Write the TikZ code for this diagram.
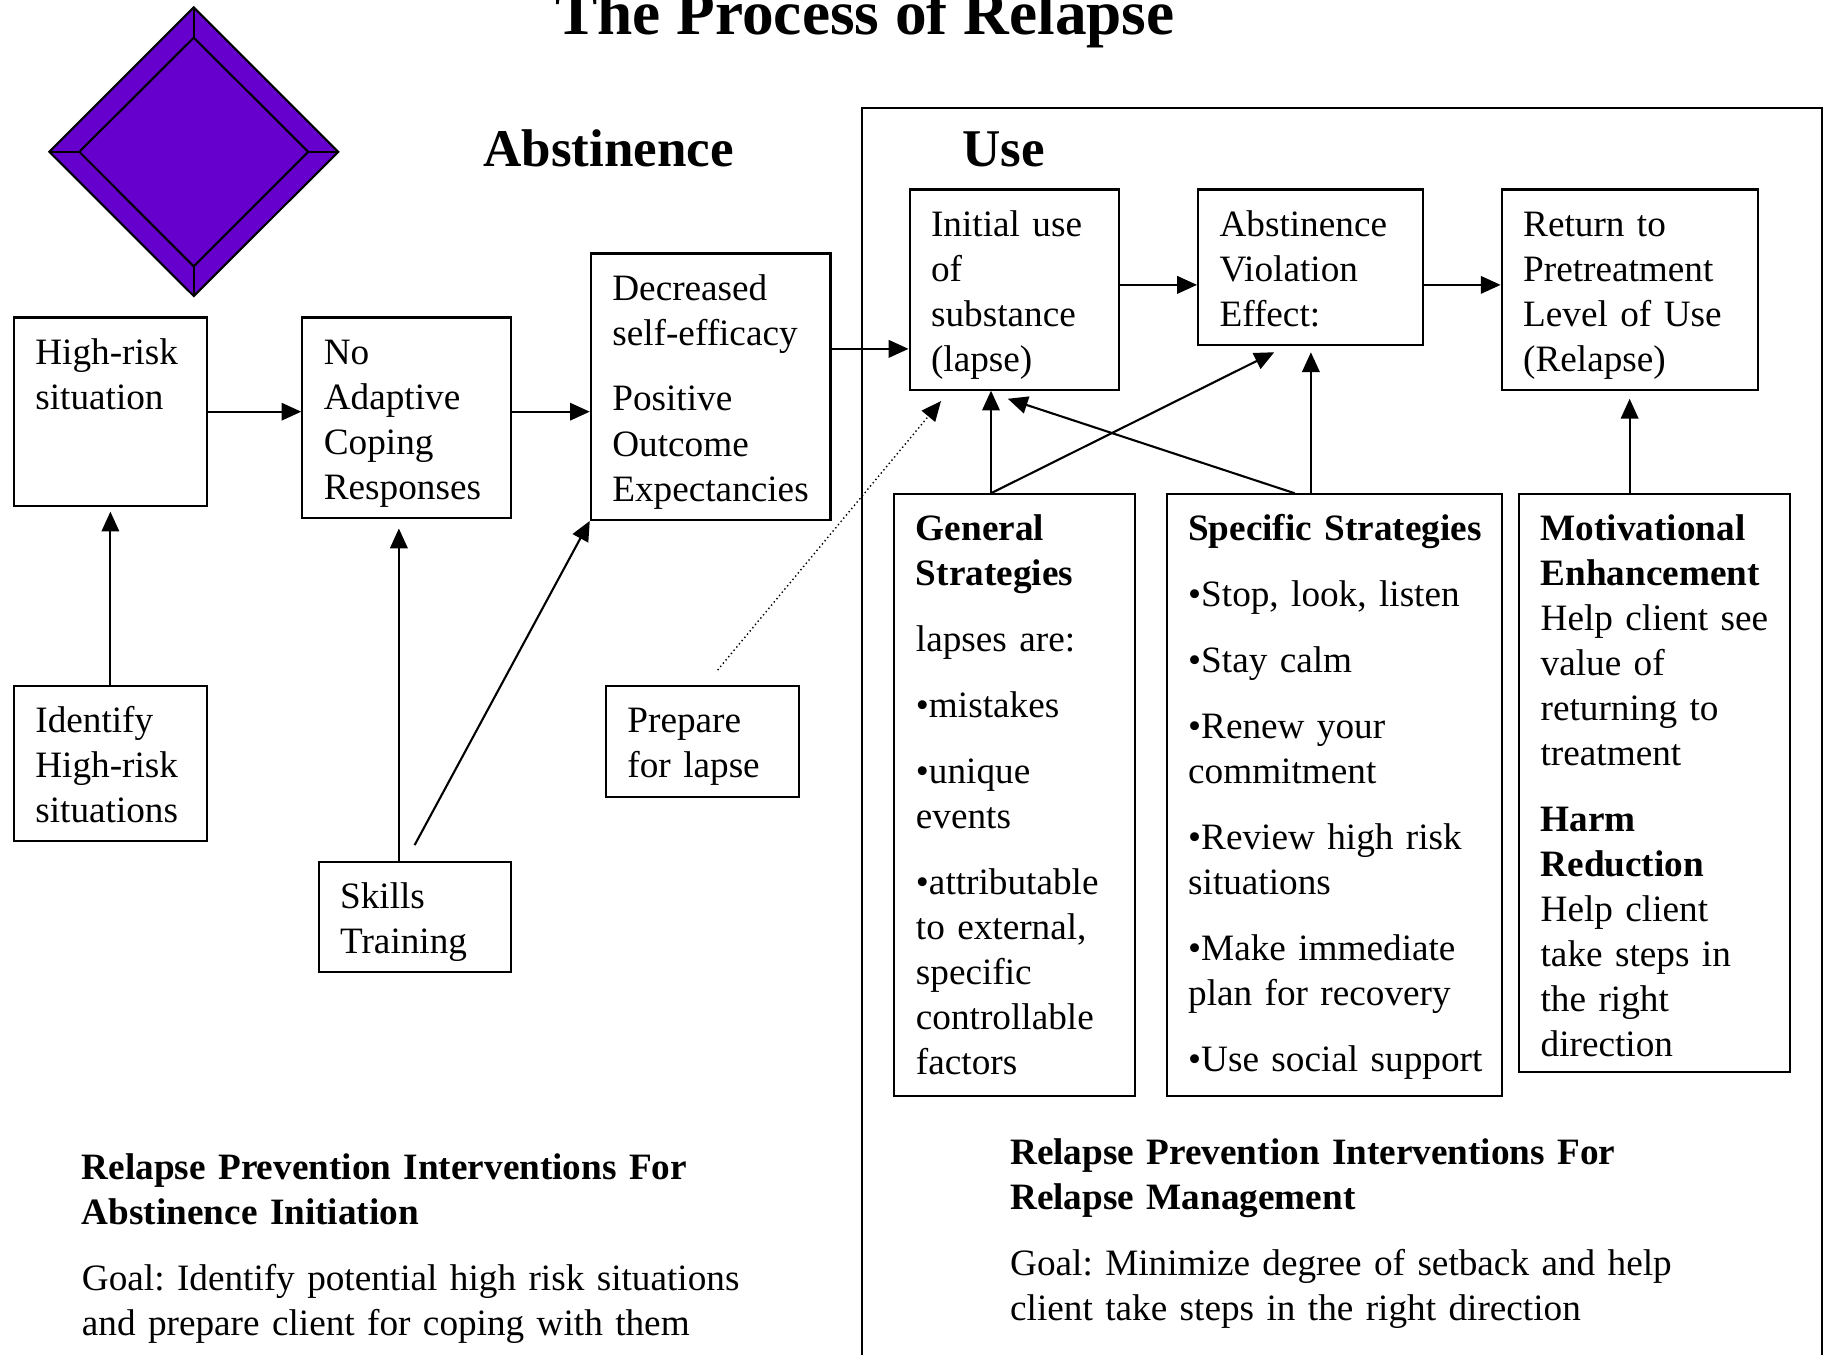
\documentclass[tikz,border=0pt]{standalone}
\usepackage{fontspec}
\setmainfont{Liberation Serif}
\usetikzlibrary{arrows.meta}

\definecolor{gem}{HTML}{6600CC}
\newcommand{\relfont}{\fontsize{16}{19.35}\selectfont\frenchspacing\hyphenpenalty=10000\exhyphenpenalty=10000}

\begin{document}
\begin{tikzpicture}[x=0.5pt, y=-0.5pt,
	box/.style={draw, line width=0.9pt, anchor=north west, align=left, inner xsep=9.25pt, inner ysep=0pt, text height=20pt, font=\relfont},
	note/.style={anchor=north west, align=left, inner sep=0pt, text height=20pt, text width=300pt, font=\relfont},
	head/.style={anchor=base west, inner sep=0pt, font=\fontsize{22.8}{27}\selectfont\bfseries},
	arr/.style={-{Triangle[length=8.5pt,width=7.5pt]}, line width=0.9pt}]
	 \clip (0,0) rectangle (1568,1164);
	 \node[anchor=base west, inner sep=0pt, font=\fontsize{27.2}{32}\selectfont\bfseries] (title) at (477,30) {The Process of Relapse};
	 \fill[gem, draw=black, line width=0.9pt] (166.6,6.3) -- (290.8,130.5) -- (166.6,254.5) -- (42.4,130.5) -- cycle;
	 \draw[line width=0.9pt] (166.6,32.4) -- (265,130.5) -- (166.6,229) -- (68.2,130.5) -- cycle;
	 \draw[line width=0.9pt] (166.6,6.3) -- (166.6,32.4) (290.8,130.5) -- (265,130.5) (166.6,254.5) -- (166.6,229) (42.4,130.5) -- (68.2,130.5);
	 \draw[line width=0.9pt] (741,1200) -- (741,93) -- (1566,93) -- (1566,1200);
	 \node[head] (abst) at (415,143) {Abstinence};
	 \node[head] (use) at (827,143) {Use};
	 \node[box, text width=64.5pt, text depth=61pt] (hr) at (11,272) {High-risk\\situation};
	 \node[box, text width=71pt, text depth=66pt] (na) at (259,272) {No\\Adaptive\\Coping\\Responses};
	 \node[box, text width=84.5pt, text depth=94.5pt] (dec) at (507,217) {Decreased\\self-efficacy\\[9pt]Positive\\Outcome\\Expectancies};
	 \node[box, text width=71.5pt, text depth=66pt] (ini) at (781,162) {Initial~use\\of\\substance\\(lapse)};
	 \node[box, text width=78pt, text depth=47pt] (ave) at (1029,162) {Abstinence\\Violation\\Effect:};
	 \node[box, text width=91.5pt, text depth=66pt] (ret) at (1290,162) {Return~to\\Pretreatment\\Level~of~Use\\(Relapse)};
	 \node[box, text width=64.5pt, text depth=46.5pt] (idf) at (11,589) {Identify\\High-risk\\situations};
	 \node[box, text width=64pt, text depth=27.5pt] (sk) at (273,740) {Skills\\Training};
	 \node[box, text width=64.5pt, text depth=27.5pt] (prep) at (520,589) {Prepare\\for~lapse};
	 \node[box, text width=85pt, text depth=238.5pt] (gen) at (768,424) {\textbf{General}\\\textbf{Strategies}\\[9pt]lapses~are:\\[9pt]\textbullet mistakes\\[9pt]\textbullet unique\\events\\[9pt]\textbullet attributable\\to~external,\\specific\\controllable\\factors};
	 \node[box, text width=125.5pt, text depth=238.5pt] (spec) at (1002,424) {\textbf{Specific~Strategies}\\[9pt]\textbullet Stop,~look,~listen\\[9pt]\textbullet Stay~calm\\[9pt]\textbullet Renew~your\\commitment\\[9pt]\textbullet Review~high~risk\\situations\\[9pt]\textbullet Make~immediate\\plan~for~recovery\\[9pt]\textbullet Use~social~support};
	 \node[box, text width=98pt, text depth=228.5pt] (mot) at (1305,424) {\textbf{Motivational}\\\textbf{Enhancement}\\Help~client~see\\value~of\\returning~to\\treatment\\[9pt]\textbf{Harm}\\\textbf{Reduction}\\Help~client\\take~steps~in\\the~right\\direction};
	 \node[note] (noteabs) at (70,973.5) {\textbf{Relapse Prevention Interventions For}\\\textbf{Abstinence Initiation}\\[9pt]Goal: Identify potential high risk situations\\and prepare client for coping with them};
	 \node[note] (noteuse) at (868,960.5) {\textbf{Relapse Prevention Interventions For}\\\textbf{Relapse Management}\\[9pt]Goal: Minimize degree of setback and help\\client take steps in the right direction};
	 \draw[arr] (hr.east) -- (hr.east -| na.west);
	 \draw[arr] (hr.east -| na.east) -- (hr.east -| dec.west);
	 \draw[arr] ([yshift=16.25pt]dec.east) coordinate (d1) -- (d1 -| ini.west);
	 \draw[arr] ([yshift=2pt]ini.east) coordinate (i1) -- (i1 -| ave.west);
	 \draw[arr] (i1 -| ave.east) -- (i1 -| ret.west);
	 \draw[arr] (idf.north) -- ([yshift=-2pt]hr.south);
	 \draw[arr] ([xshift=-6.75pt]sk.north) -- ([xshift=-3.25pt,yshift=-4.25pt]na.south);
	 \draw[arr] ([yshift=6.75pt]sk.north) -- (dec.south west);
	 \draw[arr, line width=0.6pt, dash pattern=on 0.6pt off 1.2pt] ([xshift=6.5pt,yshift=6.5pt]prep.north) -- ([xshift=-31.5pt,yshift=-4.5pt]ini.south);
	 \draw[arr] ([xshift=-10.25pt]gen.north) -- ([xshift=-10pt]ini.south);
	 \draw[arr] ([xshift=-10.25pt]gen.north) -- ([xshift=-15.5pt,yshift=-2.5pt]ave.south);
	 \draw[arr] ([xshift=-17pt]spec.north) -- ([xshift=-2.75pt,yshift=-3.5pt]ini.south);
	 \draw[arr] ([xshift=-10pt]spec.north) -- ([xshift=0.25pt,yshift=-2.5pt]ave.south);
	 \draw[arr] (ret.south |- mot.north) -- ([yshift=-3.5pt]ret.south);
\end{tikzpicture}
\end{document}
